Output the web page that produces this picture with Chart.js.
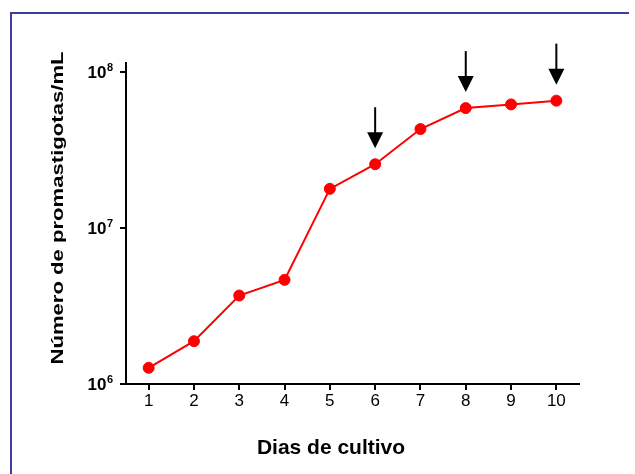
<!DOCTYPE html>
<html>
<head>
<meta charset="utf-8">
<script src="https://cdn.jsdelivr.net/npm/chart.js@4/dist/chart.umd.min.js"></script>
<style>
  html, body { margin: 0; padding: 0; background: #fff; overflow: hidden; }
  canvas { display: block; }
</style>
</head>
<body>
<canvas id="c" width="635" height="474"></canvas>
<script>
// Culture growth: promastigotes per mL over days of culture
const days = [1, 2, 3, 4, 5, 6, 7, 8, 9, 10];
const promastigotes = [1.27e6, 1.88e6, 3.69e6, 4.65e6, 1.78e7, 2.56e7, 4.30e7, 5.86e7, 6.19e7, 6.54e7];
const yTickValues = [1e6, 1e7, 1e8];
const yTickBase = '10';
const yTickExponents = ['6', '7', '8'];
const arrowDays = [6, 8, 10];
const xTitle = 'Dias de cultivo';
const yTitle = 'Número de promastigotas/mL';

const FONT = '"Liberation Sans", Arial, Helvetica, sans-serif';

// Frame lines along the top and left of the figure
const frame = {
  id: 'frame',
  beforeDraw(chart) {
    const { ctx } = chart;
    ctx.save();
    ctx.strokeStyle = '#3d3d9e';
    ctx.lineWidth = 2;
    ctx.beginPath();
    ctx.moveTo(11, 474);
    ctx.lineTo(11, 13);
    ctx.stroke();
    ctx.beginPath();
    ctx.moveTo(10, 13);
    ctx.lineTo(629, 13);
    ctx.stroke();
    ctx.restore();
  }
};

// Power-of-ten tick labels, arrows over selected days, axis titles
const annotations = {
  id: 'annotations',
  afterDraw(chart) {
    const { ctx, scales: { x, y } } = chart;
    ctx.save();
    ctx.fillStyle = '#000';
    ctx.strokeStyle = '#000';

    const labelRight = y.left + y.width - 6 - 7;
    yTickValues.forEach((v, k) => {
      const py = y.getPixelForValue(v);
      ctx.font = 'bold 11px ' + FONT;
      const ew = ctx.measureText(yTickExponents[k]).width;
      ctx.textAlign = 'left';
      ctx.textBaseline = 'alphabetic';
      ctx.fillText(yTickExponents[k], labelRight - ew, py - 1);
      ctx.font = 'bold 17px ' + FONT;
      ctx.textAlign = 'right';
      ctx.fillText(yTickBase, labelRight - ew - 0.5, py + 6);
    });

    arrowDays.forEach(d => {
      const i = days.indexOf(d);
      const px = x.getPixelForValue(i);
      const tip = y.getPixelForValue(promastigotes[i]) - 16;
      ctx.lineWidth = 2;
      ctx.beginPath();
      ctx.moveTo(px, tip - 41);
      ctx.lineTo(px, tip - 14);
      ctx.stroke();
      ctx.beginPath();
      ctx.moveTo(px - 8, tip - 16);
      ctx.lineTo(px + 8, tip - 16);
      ctx.lineTo(px, tip);
      ctx.closePath();
      ctx.fill();
    });

    ctx.font = 'bold 21px ' + FONT;
    ctx.textAlign = 'center';
    ctx.textBaseline = 'alphabetic';
    ctx.fillText(xTitle, 331, 454);

    ctx.translate(63, 208);
    ctx.rotate(-Math.PI / 2);
    ctx.scale(1.3, 1);
    ctx.font = 'bold 17px ' + FONT;
    ctx.fillText(yTitle, 0, 0);
    ctx.restore();
  }
};

new Chart(document.getElementById('c'), {
  type: 'line',
  data: {
    labels: days,
    datasets: [{
      data: promastigotes,
      borderColor: '#ff0000',
      backgroundColor: '#ff0000',
      borderWidth: 2,
      pointRadius: 5.5,
      pointBorderWidth: 1,
      tension: 0
    }]
  },
  options: {
    responsive: false,
    animation: false,
    devicePixelRatio: 1,
    layout: { padding: { left: 0, top: 63, right: 56, bottom: 0 } },
    plugins: { legend: { display: false }, tooltip: { enabled: false } },
    scales: {
      x: {
        type: 'category',
        offset: true,
        grid: { display: true, drawOnChartArea: false, drawTicks: true, tickLength: 6, color: '#000', lineWidth: 2 },
        border: { display: true, color: '#000', width: 2 },
        ticks: { color: '#000', font: { family: FONT, size: 17 }, padding: 1, maxRotation: 0, autoSkip: false },
        afterFit: s => { s.height = 90; }
      },
      y: {
        type: 'logarithmic',
        min: 1e6,
        max: 1.14e8,
        afterBuildTicks: s => { s.ticks = yTickValues.map(v => ({ value: v })); },
        grid: { display: true, drawOnChartArea: false, drawTicks: true, tickLength: 6, color: '#000', lineWidth: 2 },
        border: { display: true, color: '#000', width: 2 },
        ticks: { display: true, color: 'rgba(0,0,0,0)', font: { family: FONT, size: 17, weight: 'bold' }, padding: 7,
                 callback: () => '' },
        afterFit: s => { s.width = 126; }
      }
    }
  },
  plugins: [frame, annotations]
});
</script>
</body>
</html>
